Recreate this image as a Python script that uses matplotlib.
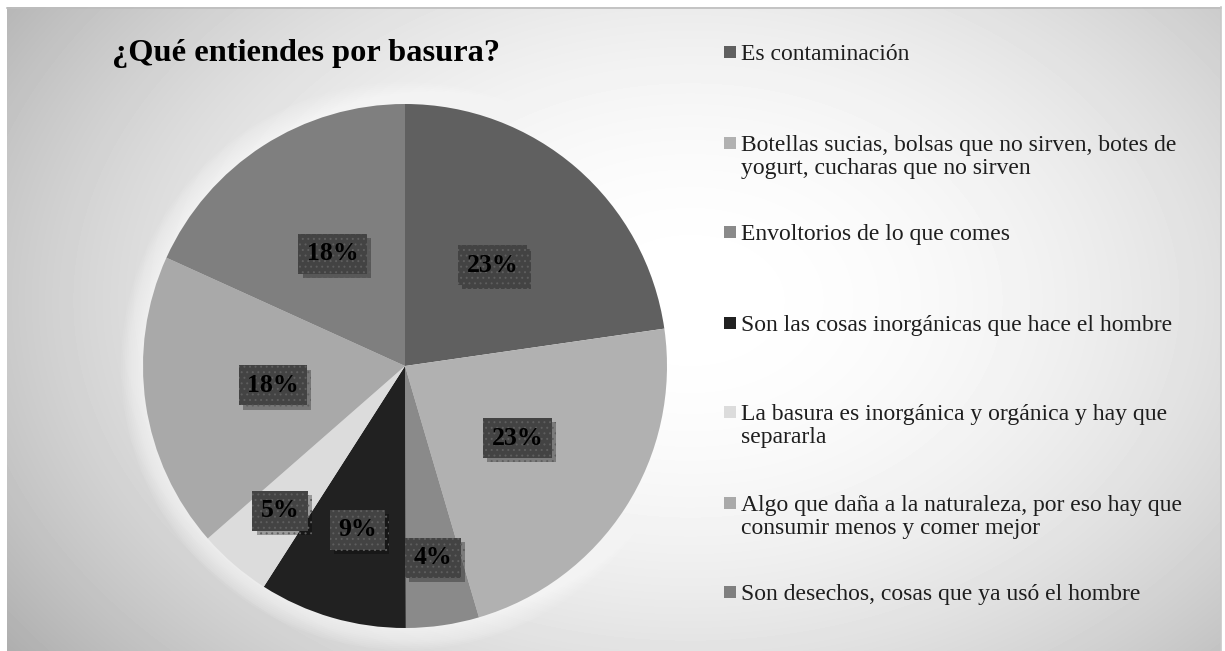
import numpy as np
import matplotlib
matplotlib.use("Agg")
import matplotlib.pyplot as plt
from matplotlib.patches import Rectangle, Circle
import matplotlib.transforms as mtransforms
import matplotlib.patheffects as pe

# data
categories = [
    "Es contaminación",
    "Botellas sucias, bolsas que no sirven, botes de\nyogurt, cucharas que no sirven",
    "Envoltorios de lo que comes",
    "Son las cosas inorgánicas que hace el hombre",
    "La basura es inorgánica y orgánica y hay que\nsepararla",
    "Algo que daña a la naturaleza, por eso hay que\nconsumir menos y comer mejor",
    "Son desechos, cosas que ya usó el hombre",
]
values = [22.7, 22.7, 4.5, 9.1, 4.5, 18.2, 18.2]
pct_labels = ["23%", "23%", "4%", "9%", "5%", "18%", "18%"]
colors = ["#606060", "#b1b1b1", "#8a8a8a", "#212121", "#dcdcdc", "#a9a9a9", "#7f7f7f"]
title = "¿Qué entiendes por basura?"

W, H = 1225, 651
plt.rcParams["font.family"] = ["Liberation Serif", "DejaVu Serif"]
plt.rcParams["hatch.linewidth"] = 0.7
fig = plt.figure(figsize=(W / 100, H / 100), dpi=100)
fig.patch.set_facecolor("white")

# background with radial gradient
bg = fig.add_axes([0, 0, 1, 1])
bg.set_xlim(0, W)
bg.set_ylim(H, 0)
bg.axis("off")
xx, yy = np.meshgrid(np.arange(7, 1221), np.arange(7, H))
d2 = ((xx - 690) / 690.0) ** 2 + ((yy - 300) / 480.0) ** 2
shade = np.clip(1 - 0.21 * d2, 0, 1)
bg.imshow(shade, cmap="gray", vmin=0, vmax=1, extent=(7, 1221, H, 7), aspect="auto",
          interpolation="bilinear")
bg.plot([7, 1221], [7.5, 7.5], color="#bdbdbd", lw=1.2)
bg.plot([1221, 1221], [7, H], color="#c8c8c8", lw=1.2)

# pie
cx, cy, r = 405, 366, 262
ax = fig.add_axes([(cx - r) / W, (H - cy - r) / H, 2 * r / W, 2 * r / H])
ax.axis("off")
for k in range(12):
    ax.add_patch(Circle((0, 0), 1.0 + 0.007 * (12 - k), color="white", alpha=0.08,
                        lw=0, clip_on=False))
wedges, _ = ax.pie(values, colors=colors, startangle=90, counterclock=False,
                   wedgeprops=dict(linewidth=0))
ax.set_xlim(-1, 1)
ax.set_ylim(-1, 1)
ax.set_aspect("equal")

label_dist = [0.51, 0.51, 0.74, 0.65, 0.73, 0.51, 0.51]
for w, lab, dist in zip(wedges, pct_labels, label_dist):
    ang = np.deg2rad((w.theta1 + w.theta2) / 2)
    x, y = dist * np.cos(ang), dist * np.sin(ang)
    t = ax.text(x, y, lab, ha="center", va="center", fontsize=18.5, fontweight="bold",
                color="black",
                bbox=dict(boxstyle="square,pad=0.33", fc="#434343", ec="#5e5e5e", lw=0,
                          hatch="..."))
    t.get_bbox_patch().set_path_effects(
        [pe.SimplePatchShadow(offset=(3, -3), shadow_rgbFace="black", alpha=0.3),
         pe.Normal()])

# title
fig.text(112 / W, 1 - 61 / H, title, fontsize=23.3, fontweight="bold", ha="left",
         va="baseline", color="black")

# legend
leg_y = [52, 143, 232, 323, 412, 503, 592]
for lab, col, y in zip(categories, colors, leg_y):
    fig.patches.append(Rectangle((724 / W, 1 - (y + 6) / H), 12 / W, 12 / H,
                                 transform=fig.transFigure, fc=col, ec="none"))
    fig.text(741 / W, 1 - y / H, lab, fontsize=17, ha="left", va="top",
             color="#1e1e1e", linespacing=1.15,
             transform=mtransforms.offset_copy(fig.transFigure, fig=fig, x=0, y=8,
                                               units="dots"))

fig.savefig("out.png", dpi=100)
